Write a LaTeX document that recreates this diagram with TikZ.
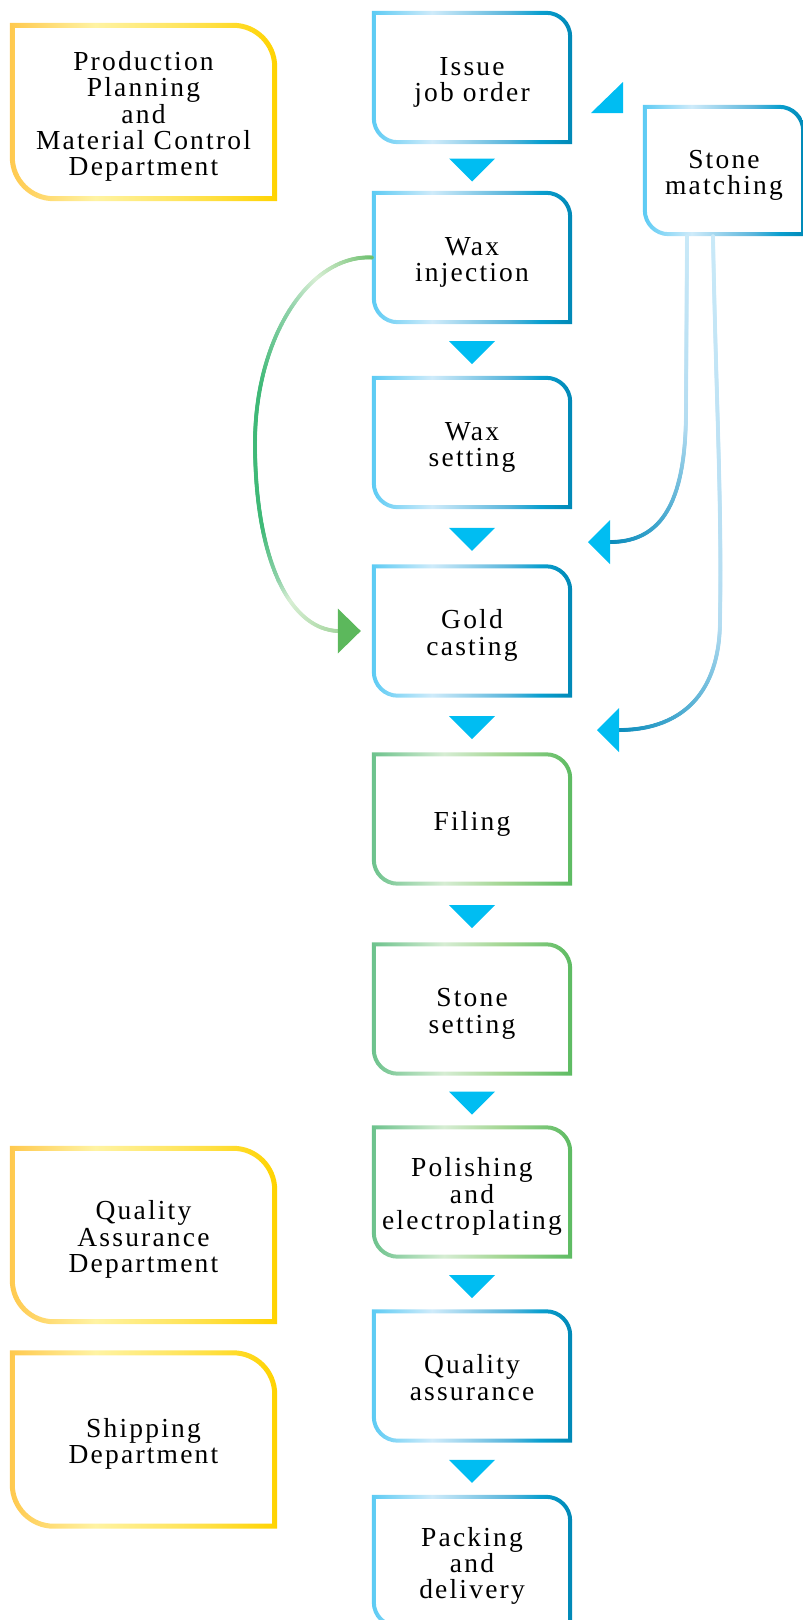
\documentclass[tikz,border=0pt]{standalone}
\usepackage{fontspec}
\setmainfont{Liberation Serif}[LetterSpace=8]
\usetikzlibrary{calc,decorations.markings}

\definecolor{bA}{HTML}{5CCBF4}
\definecolor{bB}{HTML}{CFEBFA}
\definecolor{bC}{HTML}{5AB6DC}
\definecolor{bD}{HTML}{0A9FCF}
\definecolor{bE}{HTML}{0088B6}
\definecolor{gA}{HTML}{6CC28C}
\definecolor{gB}{HTML}{D6EDD3}
\definecolor{gC}{HTML}{A5D795}
\definecolor{gD}{HTML}{5DBB62}
\definecolor{yA}{HTML}{FFC94E}
\definecolor{yB}{HTML}{FFF3A3}
\definecolor{yC}{HTML}{FFE45A}
\definecolor{yD}{HTML}{FFD300}
\definecolor{arrowblue}{HTML}{00BDF2}
\definecolor{greenhead}{HTML}{5CB85C}
\definecolor{linklight}{HTML}{C9E9F8}
\definecolor{linkmid}{HTML}{B3DCF1}
\definecolor{linkdark}{HTML}{0A8CBC}
\definecolor{gstart}{HTML}{6DBF6D}
\definecolor{glight}{HTML}{D9EFD5}
\definecolor{gmid}{HTML}{8FD2A9}
\definecolor{gteal}{HTML}{3FB977}
\definecolor{gend}{HTML}{A8D7A2}

\pgfdeclarehorizontalshading{bluegrad}{100bp}{color(0bp)=(bA); color(25bp)=(bA); color(40bp)=(bB); color(59bp)=(bC); color(67bp)=(bD); color(75bp)=(bE); color(100bp)=(bE)}
\pgfdeclarehorizontalshading{greengrad}{100bp}{color(0bp)=(gA); color(25bp)=(gA); color(43bp)=(gB); color(57bp)=(gC); color(75bp)=(gD); color(100bp)=(gD)}
\pgfdeclarehorizontalshading{yellowgrad}{100bp}{color(0bp)=(yA); color(25bp)=(yA); color(41bp)=(yB); color(58bp)=(yC); color(75bp)=(yD); color(100bp)=(yD)}

\newcommand\boxfont{\fontsize{27.5}{26.4}\selectfont}
\newcommand\topstrut{\rule{0pt}{30pt}}

% frame with sharp nw/se corners, round ne/sw corners, shaded stroke
\newcommand\gframe[4]{%
  \pgfmathsetmacro\rin{#3-#4}
  \shade[shading=#2, even odd rule]
    (#1.north west) -- ([xshift=-#3pt]#1.north east) arc[start angle=90, end angle=0, radius=#3pt]
    -- (#1.south east) -- ([xshift=#3pt]#1.south west) arc[start angle=270, end angle=180, radius=#3pt] -- cycle
    ([shift={(#4pt,-#4pt)}]#1.north west) -- ([shift={(-#3pt,-#4pt)}]#1.north east) arc[start angle=90, end angle=0, radius=\rin pt]
    -- ([shift={(-#4pt,#4pt)}]#1.south east) -- ([shift={(#3pt,#4pt)}]#1.south west) arc[start angle=270, end angle=180, radius=\rin pt] -- cycle;
}

\tikzset{
  boxtext/.style={inner sep=0pt, align=center, font=\boxfont,
    execute at end node={\rule[-8pt]{0pt}{8pt}}},
  stepbox/.style={boxtext, minimum width=200pt, minimum height=133pt},
  deptbox/.style={boxtext, minimum width=267pt, minimum height=178pt},
  downtri/.style={fill=arrowblue},
  % stroke whose colour runs #1 -> #2 (at #4 percent) -> #3
  fadeline/.style n args={4}{postaction={decorate, decoration={markings,
    mark=between positions 0 and 1 step 1pt with {
      \pgfmathsetmacro\fr{\pgfkeysvalueof{/pgf/decoration/mark info/distance from start}/\pgfdecoratedpathlength*100}
      \ifdim\fr pt<#4pt
        \pgfmathsetmacro\fm{\fr/#4*100}\fill[#2!\fm!#1] (0,0) circle (2pt);
      \else
        \pgfmathsetmacro\fm{min(100,(\fr-#4)/(100-#4)*100)}\fill[#3!\fm!#2] (0,0) circle (2pt);
      \fi}}}},
}

\begin{document}
\begin{tikzpicture}[x=1pt, y=1pt]
  \useasboundingbox (0,0) rectangle (803,-1620);

  % departments
  \node[deptbox] (ppmc) at (143.5,-112) {\topstrut Production\\Planning\\and\\Material Control\\Department};
  \node[deptbox] (qadept) at (143.5,-1235) {\topstrut Quality\\Assurance\\Department};
  \node[deptbox] (shipdept) at (143.5,-1439.5) {\topstrut Shipping\\Department};

  % process steps
  \node[stepbox] (issue) at (472,-77.5) {\topstrut Issue\\job order};
  \node[stepbox] (waxinj) at (472,-257.5) {\topstrut Wax\\injection};
  \node[stepbox] (waxset) at (472,-442.5) {\topstrut Wax\\setting};
  \node[stepbox] (casting) at (472,-631) {\topstrut Gold\\casting};
  \node[stepbox] (filing) at (472,-819) {\topstrut Filing};
  \node[stepbox] (stoneset) at (472,-1009) {\topstrut Stone\\setting};
  \node[stepbox] (polish) at (472,-1192) {\topstrut Polishing\\and\\electroplating};
  \node[stepbox] (qa) at (472,-1376) {\topstrut Quality\\assurance};
  \node[stepbox] (pack) at (472,-1561.5) {\topstrut Packing\\and\\delivery};
  \node[stepbox, minimum width=162pt, minimum height=131pt] (stonematch) at (724,-170.5) {\topstrut Stone\\matching};

  % frames
  \foreach \n in {issue,waxinj,waxset,casting,qa,pack,stonematch} {\gframe{\n}{bluegrad}{26}{4}}
  \foreach \n in {filing,stoneset,polish} {\gframe{\n}{greengrad}{26}{4}}
  \foreach \n in {ppmc,qadept,shipdept} {\gframe{\n}{yellowgrad}{44}{5}}

  % arrows down the chain
  \foreach \a/\b in {issue/waxinj,waxinj/waxset,waxset/casting,casting/filing,filing/stoneset,stoneset/polish,polish/qa,qa/pack}
    \fill[downtri] ($(\a.south)!.5!(\b.north)+(-23,9)$) -- ++(46,0) -- ++(-23,-23) -- cycle;

  % stone matching back to job order
  \fill[arrowblue] (591,-113) -- (623,-113) -- (623,-82) -- cycle;

  % stone matching feeds
  \coordinate (tip1) at (588,-542);
  \coordinate (tip2) at (597,-730);
  \path[fadeline={linklight}{linkmid}{linkdark}{55}] ([xshift=-37pt]stonematch.south) -- (686,-410)
    .. controls (686,-505) and (660,-542) .. ([xshift=22pt]tip1);
  \path[fadeline={linklight}{linkmid}{linkdark}{70}] ([xshift=-11pt]stonematch.south)
    .. controls (716,-400) and (722,-500) .. (720,-620)
    .. controls (720,-700) and (675,-730) .. ([xshift=22pt]tip2);
  \fill[arrowblue] (tip1) -- ++(22,22) -- ++(0,-44) -- cycle;
  \fill[arrowblue] (tip2) -- ++(22,22) -- ++(0,-44) -- cycle;

  % wax injection straight to casting
  \coordinate (g1) at (289.1,-310.9);
  \coordinate (g2) at (255,-443);
  \coordinate (g3) at (278.5,-580.4);
  \coordinate (gtip) at ([xshift=-11pt]casting.west);
  \path[fadeline={gstart}{glight}{gmid}{60}] (waxinj.west)
    .. controls (339.5,-256) and (310.25,-277) .. (g1);
  \path[fadeline={gmid}{gteal}{gteal}{60}] (g1)
    .. controls (268,-344.75) and (255,-391.5) .. (g2);
  \path[fadeline={gteal}{gteal}{gmid}{60}] (g2)
    .. controls (255,-501.5) and (263.75,-548.25) .. (g3);
  \path[fadeline={gmid}{glight}{gend}{30}] (g3)
    .. controls (293.25,-612.5) and (314,-630) .. ([xshift=-23pt]gtip);
  \fill[greenhead] (gtip) -- ++(-23,22.5) -- ++(0,-45) -- cycle;
\end{tikzpicture}
\end{document}
